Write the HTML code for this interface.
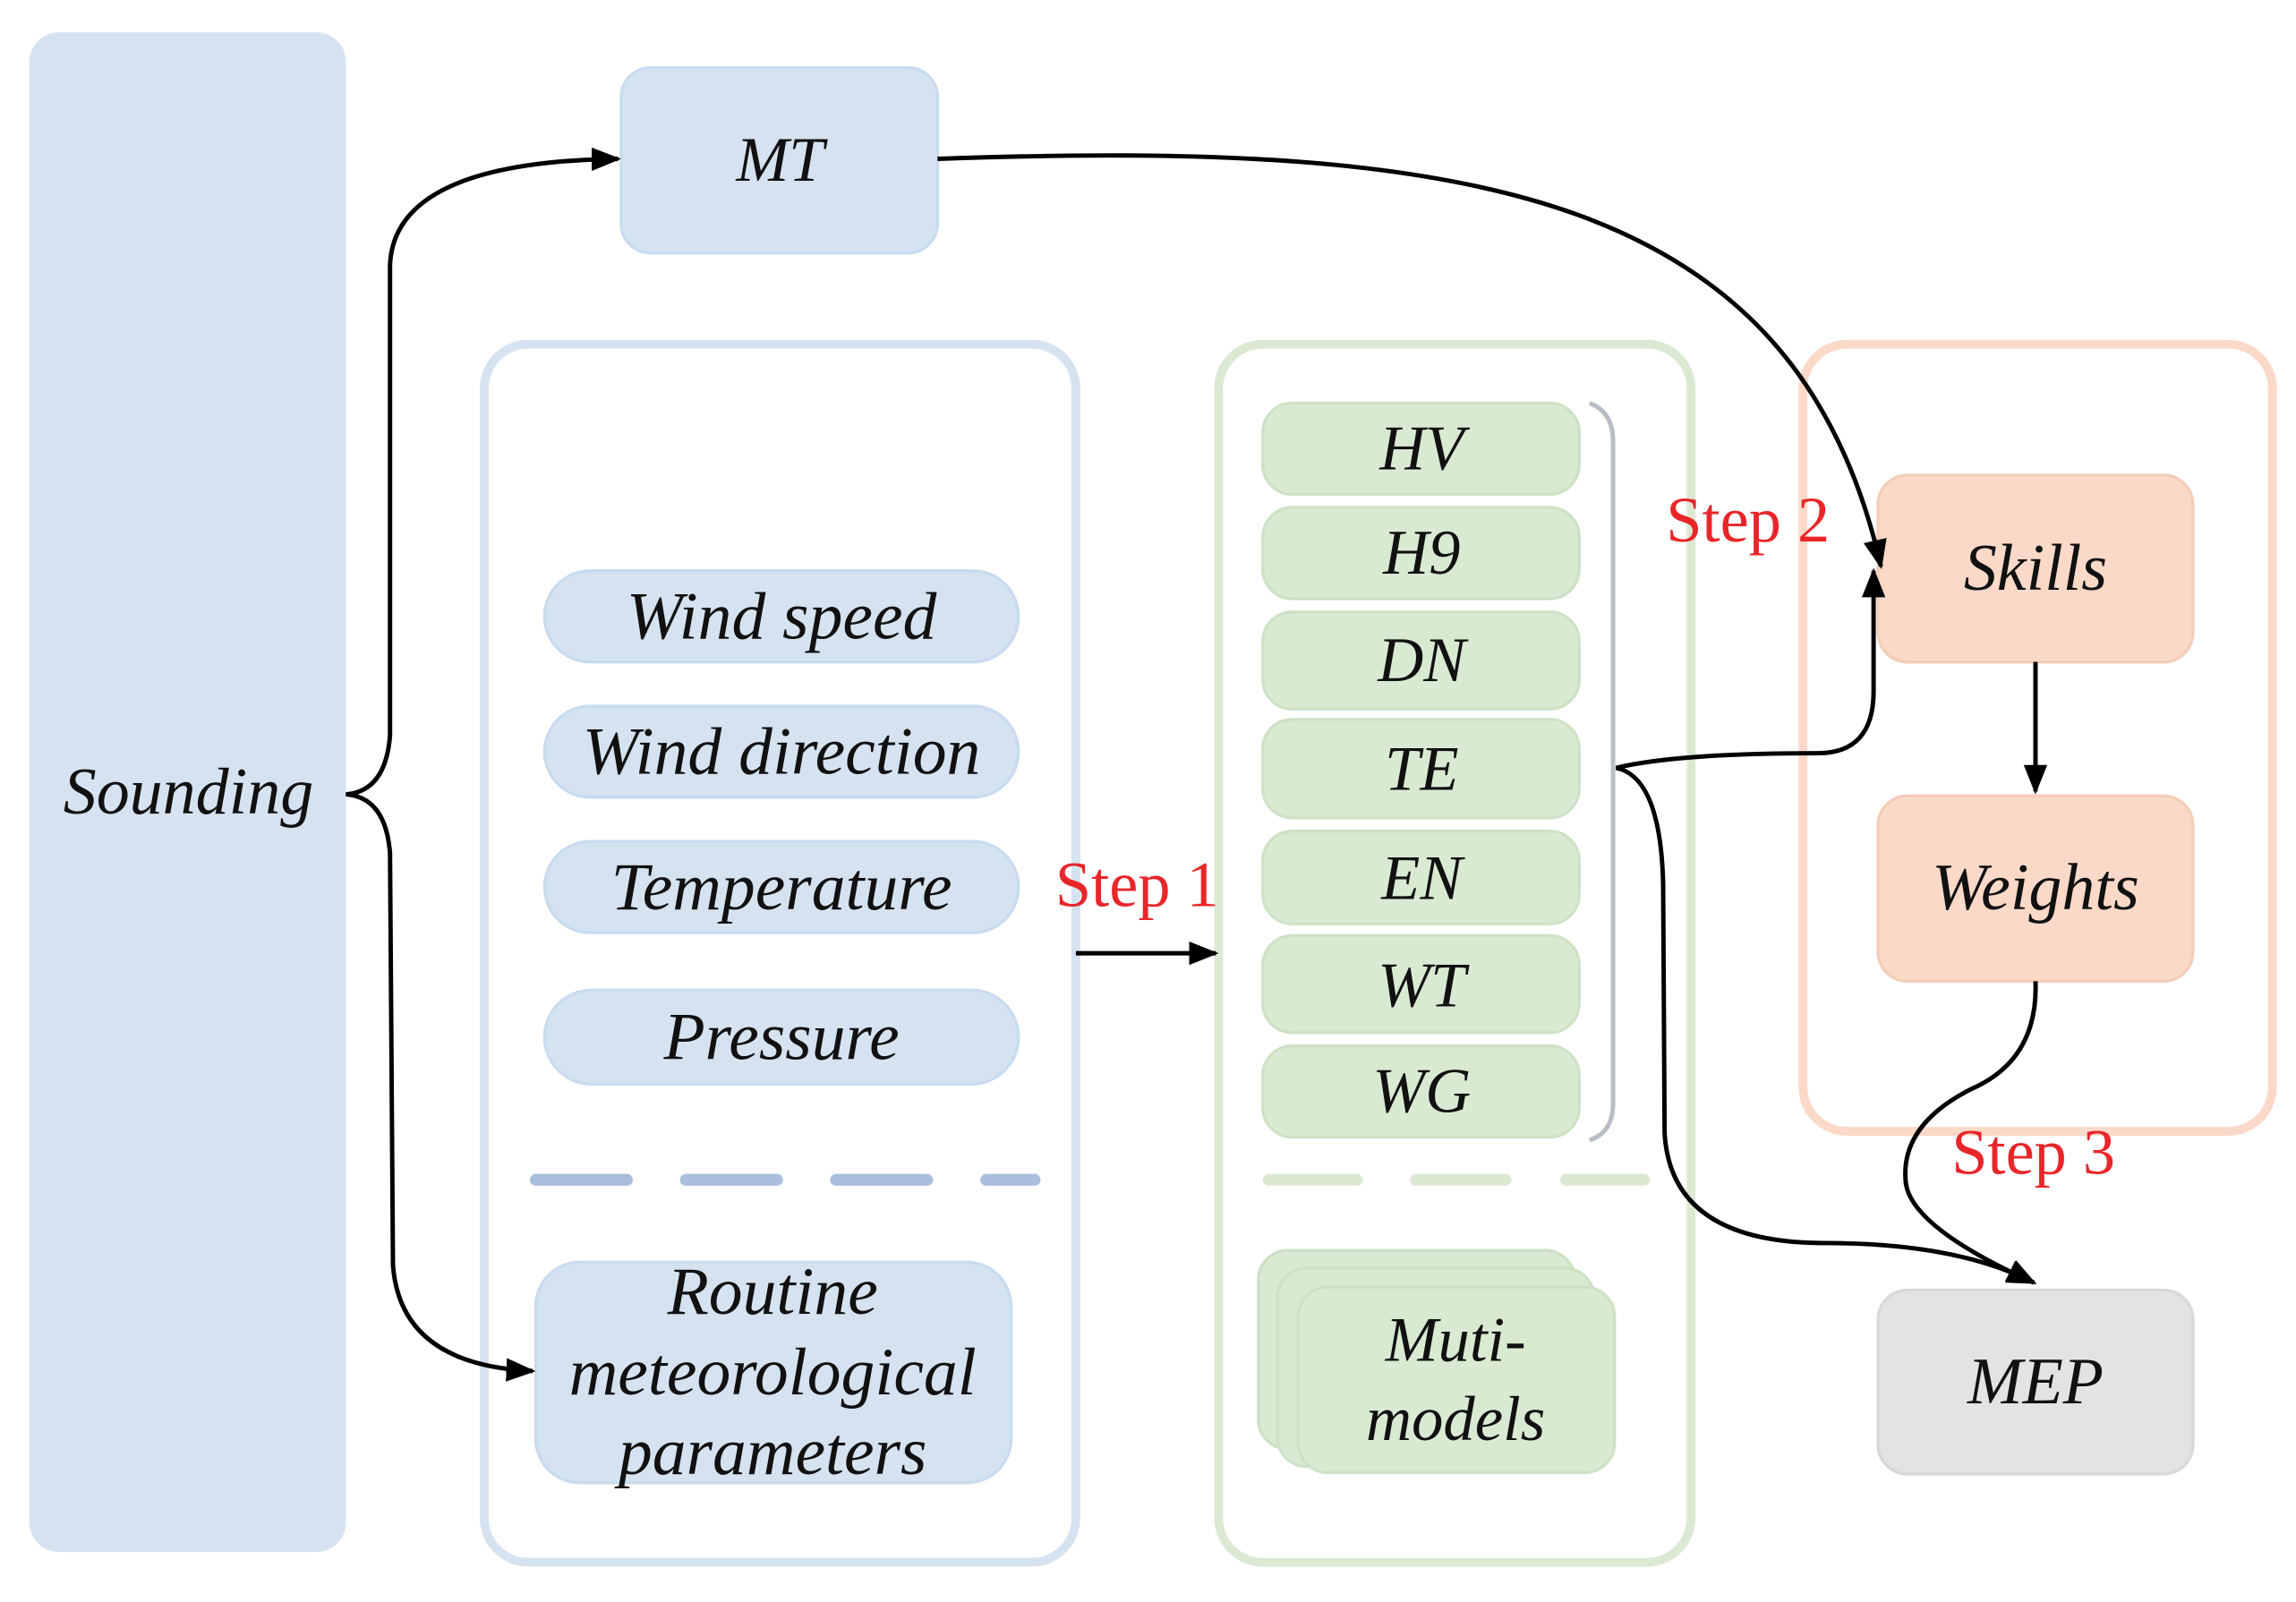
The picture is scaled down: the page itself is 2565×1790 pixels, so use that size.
<!DOCTYPE html>
<html><head><meta charset="utf-8"><style>
html,body{margin:0;padding:0;background:#fff}
svg{display:block}
text{font-family:"Liberation Serif",serif;font-style:italic;fill:#111}
.r{font-style:normal;fill:#e8262a}
</style></head><body>
<svg width="2565" height="1790" viewBox="0 0 1560 1089" preserveAspectRatio="none" xmlns="http://www.w3.org/2000/svg">
<defs>
<marker id="b" viewBox="0 0 10 10" refX="9" refY="5" markerWidth="20" markerHeight="20" markerUnits="userSpaceOnUse" orient="auto"><path d="M0,1 L10,5 L0,9 z" fill="#000"/></marker>
</defs>
<rect x="20" y="22" width="215" height="1033" rx="20" fill="#d5e3f1"/>
<text x="128" y="553" font-size="45" text-anchor="middle">Sounding</text>
<rect x="422" y="46" width="215" height="126" rx="20" fill="#d5e3f1" stroke="#c8dbef" stroke-width="2"/>
<text x="530" y="123" font-size="43" text-anchor="middle">MT</text>
<rect x="329" y="234" width="402" height="828" rx="30" fill="none" stroke="#d5e3f1" stroke-width="6"/>
<rect x="828" y="234" width="321" height="828" rx="30" fill="none" stroke="#dbe9d3" stroke-width="6"/>
<rect x="1225" y="234" width="319" height="535" rx="30" fill="none" stroke="#fbd9c8" stroke-width="6"/>
<g fill="#d5e3f1" stroke="#c8dbef" stroke-width="2">
<rect x="370" y="388" width="322" height="62" rx="31"/>
<rect x="370" y="480" width="322" height="62" rx="31"/>
<rect x="370" y="572" width="322" height="62" rx="31"/>
<rect x="370" y="673" width="322" height="64" rx="32"/>
<rect x="364" y="858" width="323" height="150" rx="30"/>
</g>
<g font-size="46" text-anchor="middle">
<text x="531" y="434">Wind speed</text>
<text x="531" y="526">Wind direction</text>
<text x="531" y="618">Temperature</text>
<text x="531" y="720">Pressure</text>
<text x="525" y="893">Routine</text>
<text x="525" y="948">meteorological</text>
<text x="525" y="1002">parameters</text>
</g>
<g stroke="#a9bfdd" stroke-width="8" stroke-linecap="round">
<line x1="364" y1="802" x2="426" y2="802"/><line x1="466" y1="802" x2="528" y2="802"/><line x1="568" y1="802" x2="630" y2="802"/><line x1="670" y1="802" x2="703" y2="802"/>
</g>
<g stroke="#dbe9d3" stroke-width="8" stroke-linecap="round">
<line x1="862" y1="802" x2="922" y2="802"/><line x1="962" y1="802" x2="1023" y2="802"/><line x1="1064" y1="802" x2="1117" y2="802"/>
</g>
<g fill="#d9ead3" stroke="#cde2c5" stroke-width="2">
<rect x="858" y="274" width="215" height="62" rx="20"/>
<rect x="858" y="345" width="215" height="62" rx="20"/>
<rect x="858" y="416" width="215" height="66" rx="20"/>
<rect x="858" y="489" width="215" height="67" rx="20"/>
<rect x="858" y="565" width="215" height="63" rx="20"/>
<rect x="858" y="636" width="215" height="66" rx="20"/>
<rect x="858" y="711" width="215" height="62" rx="20"/>
<rect x="855" y="850" width="215" height="135" rx="20"/>
<rect x="868" y="862" width="215" height="135" rx="20"/>
<rect x="882" y="875" width="215" height="126" rx="20"/>
</g>
<g font-size="43" text-anchor="middle">
<text x="966" y="319">HV</text>
<text x="966" y="390">H9</text>
<text x="966" y="463">DN</text>
<text x="966" y="537">TE</text>
<text x="966" y="611">EN</text>
<text x="966" y="684">WT</text>
<text x="966" y="756">WG</text>
<text x="989" y="925">Muti-</text>
<text x="989" y="979">models</text>
</g>
<path d="M1080,274 Q1096,280 1096,300 L1096,750 Q1096,770 1080,775" fill="none" stroke="#b8bcc4" stroke-width="3"/>
<g fill="#fad9c8" stroke="#f3cdb9" stroke-width="2">
<rect x="1276" y="323" width="214" height="127" rx="20"/>
<rect x="1276" y="541" width="214" height="126" rx="20"/>
</g>
<rect x="1276" y="877" width="214" height="125" rx="20" fill="#e3e3e3" stroke="#d6d8dc" stroke-width="2"/>
<g font-size="45" text-anchor="middle">
<text x="1383" y="401">Skills</text>
<text x="1383" y="618">Weights</text>
<text x="1383" y="954">MEP</text>
</g>
<g font-size="44">
<text class="r" x="717" y="616">Step 1</text>
<text class="r" x="1132" y="368">Step 2</text>
<text class="r" x="1326" y="798">Step 3</text>
</g>
<g fill="none" stroke="#000" stroke-width="3">
<path d="M235,540 Q262,538 265,500 L265,180 Q268,110 420,108" marker-end="url(#b)"/>
<path d="M235,540 Q262,542 265,580 L267,860 Q272,928 362,932" marker-end="url(#b)"/>
<path d="M637,108 C1000,95 1220,130 1278,385" marker-end="url(#b)"/>
<path d="M1098,522 Q1140,512 1235,512 Q1273,512 1273,470 L1273,388" marker-end="url(#b)"/>
<path d="M1098,522 Q1128,528 1130,600 L1131,770 Q1135,845 1240,845 Q1330,845 1382,872" marker-end="url(#b)"/>
<path d="M1383,450 L1383,538" marker-end="url(#b)"/>
<path d="M1383,667 Q1385,720 1340,740 Q1290,765 1295,805 Q1300,835 1382,872" marker-end="url(#b)"/>
<path d="M731,648 L826,648" marker-end="url(#b)"/>
</g>
</svg>
</body></html>
